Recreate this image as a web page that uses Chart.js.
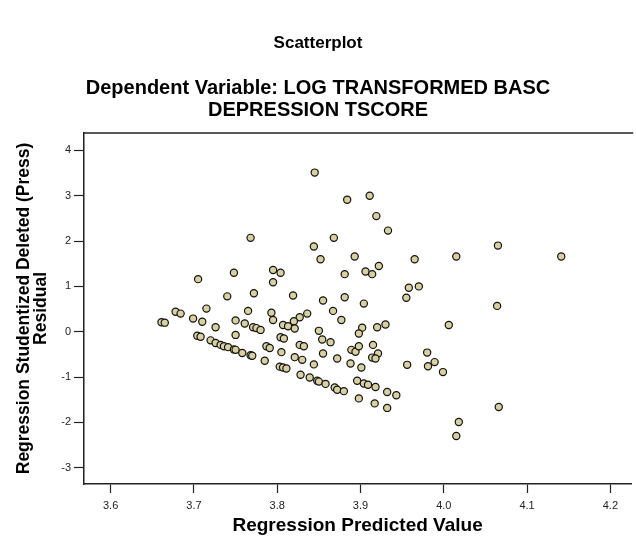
<!DOCTYPE html>
<html>
<head>
<meta charset="utf-8">
<script src="https://cdn.jsdelivr.net/npm/chart.js@4.4.1/dist/chart.umd.min.js"></script>
<style>
  html, body { margin: 0; padding: 0; background: #fff; }
  #wrap { width: 636px; height: 537px; }
</style>
</head>
<body>
<div id="wrap"><canvas id="chart" width="636" height="537"></canvas></div>
<script>
// Regression predicted value (x) and studentized deleted residual (y)
const predicted = [
    3.845, 3.884, 3.911, 3.919, 3.933, 3.768, 3.868, 3.844, 4.065, 3.852,
    3.893, 3.965, 4.015, 4.141, 3.922, 3.906, 3.914, 3.881, 3.795, 3.804,
    3.748, 3.705, 3.795, 3.958, 3.970, 3.955, 3.772, 3.740, 3.819, 3.881,
    3.855, 3.904, 4.064, 3.715, 3.678, 3.684, 3.765, 3.793, 3.836, 3.867,
    3.827, 3.795, 3.820, 3.877, 3.661, 3.665, 3.699, 3.710, 3.750, 3.761,
    3.771, 3.775, 3.780, 3.726, 3.807, 3.813, 3.821, 3.930, 3.920, 3.902,
    3.898, 3.850, 4.006, 3.704, 3.708, 3.750, 3.720, 3.726, 3.732, 3.736,
    3.741, 3.748, 3.750, 3.758, 3.768, 3.770, 3.785, 3.804, 3.808, 3.854,
    3.864, 3.787, 3.791, 3.827, 3.832, 3.805, 3.855, 3.821, 3.830, 3.872,
    3.844, 3.889, 3.894, 3.898, 3.915, 3.921, 3.914, 3.918, 3.888, 3.901,
    3.980, 3.989, 3.981, 3.956, 3.999, 3.803, 3.807, 3.811, 3.828, 3.839,
    3.848, 3.850, 3.858, 3.869, 3.872, 3.880, 3.896, 3.904, 3.909, 3.918,
    3.932, 3.943, 3.898, 3.917, 3.932, 4.066, 4.018, 4.015
];
const residuals = [
    3.51, 2.91, 3.00, 2.55, 2.23, 2.07, 2.07, 1.88, 1.90, 1.60,
    1.66, 1.60, 1.66, 1.66, 1.45, 1.33, 1.27, 1.27, 1.36, 1.30,
    1.30, 1.16, 1.09, 0.97, 1.00, 0.75, 0.85, 0.78, 0.80, 0.76,
    0.69, 0.62, 0.57, 0.51, 0.44, 0.40, 0.46, 0.42, 0.40, 0.46,
    0.32, 0.26, 0.23, 0.26, 0.21, 0.20, 0.29, 0.22, 0.25, 0.18,
    0.10, 0.08, 0.04, 0.10, 0.15, 0.12, 0.07, 0.16, 0.10, 0.09,
    -0.04, 0.02, 0.15, -0.09, -0.11, -0.07, -0.19, -0.25, -0.29, -0.32,
    -0.34, -0.39, -0.40, -0.47, -0.52, -0.53, -0.64, -0.12, -0.15, -0.17,
    -0.23, -0.32, -0.36, -0.29, -0.32, -0.45, -0.48, -0.56, -0.62, -0.59,
    -0.72, -0.40, -0.44, -0.32, -0.29, -0.48, -0.57, -0.59, -0.70, -0.79,
    -0.46, -0.67, -0.76, -0.73, -0.89, -0.77, -0.79, -0.81, -0.95, -1.01,
    -1.08, -1.10, -1.15, -1.23, -1.28, -1.31, -1.08, -1.14, -1.17, -1.22,
    -1.33, -1.40, -1.47, -1.58, -1.68, -1.66, -1.99, -2.30
];
const xTicks = [3.6, 3.7, 3.8, 3.9, 4.0, 4.1, 4.2];
const yTicks = [-3, -2, -1, 0, 1, 2, 3, 4];

const FONT = 'Arial, "Liberation Sans", Helvetica, sans-serif';

// top edge of the plot frame (left/bottom come from the axis borders)
const frameTop = {
    id: 'frameTop',
    afterDraw(chart) {
        const { ctx, chartArea: a } = chart;
        ctx.save();
        ctx.strokeStyle = '#222';
        ctx.lineWidth = 1.5;
        ctx.beginPath();
        ctx.moveTo(a.left, a.top);
        ctx.lineTo(a.right + 2, a.top);
        ctx.stroke();
        ctx.restore();
    }
};

const ctx = document.getElementById('chart').getContext('2d');
new Chart(ctx, {
    type: 'scatter',
    data: {
        datasets: [{
            data: predicted.map((x, i) => ({ x: x, y: residuals[i] })),
            backgroundColor: '#d8d0a0',
            borderColor: '#111',
            borderWidth: 1.2,
            pointRadius: 3.6,
            pointHoverRadius: 3.6
        }]
    },
    options: {
        responsive: false,
        animation: false,
        layout: { padding: { left: 0, right: 0, top: 0, bottom: 0 } },
        plugins: {
            legend: { display: false },
            tooltip: { enabled: false },
            title: {
                display: true,
                text: 'Scatterplot',
                color: '#000',
                font: { family: FONT, size: 17, weight: 'bold', lineHeight: 1.2 },
                padding: { top: 33, bottom: 24 }
            },
            subtitle: {
                display: true,
                text: ['Dependent Variable: LOG TRANSFORMED BASC', 'DEPRESSION TSCORE'],
                color: '#000',
                font: { family: FONT, size: 20, weight: 'bold', lineHeight: 1.1 },
                padding: { top: 0, bottom: 11.5 }
            }
        },
        scales: {
            x: {
                type: 'linear',
                min: 3.568,
                max: 4.225,
                afterBuildTicks: (scale) => { scale.ticks = xTicks.map(v => ({ value: v })); },
                afterFit: (scale) => { scale.height = 53; },
                ticks: {
                    color: '#222',
                    font: { family: FONT, size: 11 },
                    padding: 6,
                    callback: v => Number(v).toFixed(1)
                },
                grid: { drawOnChartArea: false, drawTicks: true, tickLength: 9, tickColor: '#222', tickWidth: 1.2 },
                border: { display: true, color: '#222', width: 1.5 },
                title: {
                    display: true,
                    text: 'Regression Predicted Value',
                    color: '#000',
                    font: { family: FONT, size: 19, weight: 'bold', lineHeight: 1.2 },
                    padding: { top: 0, bottom: 0 }
                }
            },
            y: {
                type: 'linear',
                min: -3.358,
                max: 4.385,
                afterBuildTicks: (scale) => { scale.ticks = yTicks.map(v => ({ value: v })); },
                afterFit: (scale) => { scale.width = 84; },
                ticks: {
                    color: '#222',
                    font: { family: FONT, size: 11 },
                    padding: 3,
                    callback: v => String(v)
                },
                grid: { drawOnChartArea: false, drawTicks: true, tickLength: 10, tickColor: '#222', tickWidth: 1.2 },
                border: { display: true, color: '#222', width: 1.5 },
                title: {
                    display: true,
                    text: ['Regression Studentized Deleted (Press)', 'Residual'],
                    color: '#000',
                    font: { family: FONT, size: 17.5, weight: 'bold', lineHeight: 1.0 },
                    padding: { top: 15, bottom: 0 }
                }
            }
        }
    },
    plugins: [frameTop]
});
</script>
</body>
</html>
